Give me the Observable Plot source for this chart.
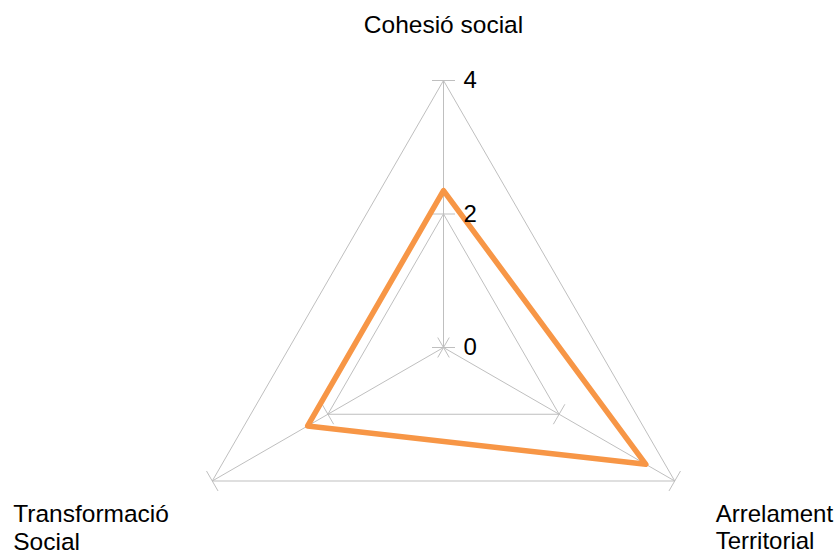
<!DOCTYPE html>
<html><head><meta charset="utf-8">
<script src="https://cdn.jsdelivr.net/npm/d3@7"></script>
<script src="https://cdn.jsdelivr.net/npm/@observablehq/plot@0.6"></script>
<style>body{margin:0;background:#fff} #chart svg{font-family:"Liberation Sans",Arial,sans-serif;background:#fff}</style>
</head><body><div id="chart"></div>
<script>
const axes = ["Cohesió social", "Arrelament\nTerritorial", "Transformació\nSocial"];
const values = [2.35, 3.5, 2.35];
const tickValues = [0, 2, 4];
const tickLabels = ["0", "2", "4"];
const gridLevels = [2, 4];

const W = 840, H = 555, CX = 443, CY = 347, PX = 66.75; // px per unit
const n = axes.length;
const angles = axes.map((_, i) => Math.PI / 2 - i * 2 * Math.PI / n);
const pt = (i, r) => ({x: r * Math.cos(angles[i]), y: r * Math.sin(angles[i])});
const maxV = d3.max(tickValues);

// grid polygons
const grid = gridLevels.flatMap(l => [...axes.keys(), 0].map(i => ({...pt(i, l), level: l})));
// spokes
const spokes = axes.map((_, i) => ({x1: 0, y1: 0, x2: pt(i, maxV).x, y2: pt(i, maxV).y}));
// tick marks perpendicular to each axis
const half = 11.5 / PX;
const ticks = axes.flatMap((_, i) => tickValues.map(v => {
  const p = pt(i, v), a = angles[i] + Math.PI / 2;
  return {x1: p.x - half * Math.cos(a), y1: p.y - half * Math.sin(a), x2: p.x + half * Math.cos(a), y2: p.y + half * Math.sin(a)};
}));
const series = [...axes.keys(), 0].map(i => pt(i, values[i]));
const tickText = tickValues.map((v, k) => ({...pt(0, v), label: tickLabels[k]}));

const lab = i => [{...pt(i, maxV), label: axes[i]}];

const plot = Plot.plot({
  width: W, height: H, margin: 0,
  x: {domain: [-CX / PX, (W - CX) / PX], axis: null},
  y: {domain: [-(H - CY) / PX, CY / PX], axis: null},
  marks: [
    Plot.line(grid, {x: "x", y: "y", z: "level", stroke: "#bfbfbf", strokeWidth: 1}),
    Plot.link(spokes, {x1: "x1", y1: "y1", x2: "x2", y2: "y2", stroke: "#bfbfbf", strokeWidth: 1}),
    Plot.link(ticks, {x1: "x1", y1: "y1", x2: "x2", y2: "y2", stroke: "#bfbfbf", strokeWidth: 1}),
    Plot.line(series, {x: "x", y: "y", stroke: "#f79646", strokeWidth: 5.5, strokeLinejoin: "round", curve: "linear"}),
    Plot.text(tickText, {x: "x", y: "y", text: "label", textAnchor: "start", lineAnchor: "middle", dx: 20, fontSize: 24, fill: "#000"}),
    Plot.text(lab(0), {x: "x", y: "y", text: "label", textAnchor: "middle", lineAnchor: "bottom", dy: -48, fontSize: 24.5, fill: "#000"}),
    Plot.text(lab(1), {x: "x", y: "y", text: "label", textAnchor: "start", lineAnchor: "bottom", dx: 41, dy: 67.5, fontSize: 24, lineHeight: 1.12, fill: "#000"}),
    Plot.text(lab(2), {x: "x", y: "y", text: "label", textAnchor: "start", lineAnchor: "bottom", dx: -199, dy: 68.5, fontSize: 24.5, lineHeight: 1.12, fill: "#000"})
  ]
});
document.getElementById("chart").append(plot);
</script></body></html>
